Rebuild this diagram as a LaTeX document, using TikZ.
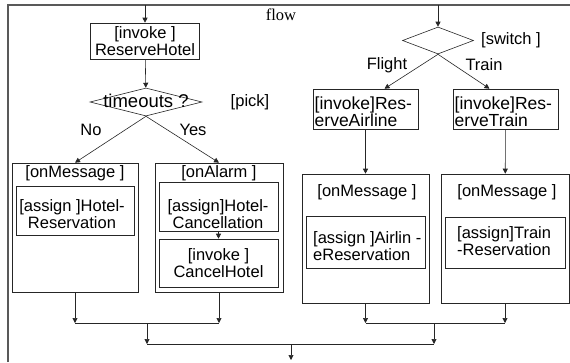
\documentclass[tikz,border=0pt]{standalone}
\usepackage{fontspec}
\setmainfont{Liberation Sans}
\newfontfamily\seriffont{Liberation Serif}
\usetikzlibrary{shapes.geometric,arrows.meta}

\begin{document}
\begin{tikzpicture}[x=1pt,y=-1pt,
  box/.style={draw=black!85,line width=0.6pt,inner sep=0pt,align=center,
              font=\fontsize{16.5}{13}\selectfont},
  lbl/.style={inner sep=0pt,align=center,font=\fontsize{16.5}{13}\selectfont},
  lbll/.style={inner sep=0pt,align=left,anchor=west,font=\fontsize{16.5}{13}\selectfont},
  dec/.style={draw=black!85,line width=0.6pt,shape=diamond,inner sep=0pt},
  arr/.style={draw=black!85,line width=0.6pt,-{Triangle[length=5pt,width=5pt]}},
  ln/.style={draw=black!85,line width=0.6pt}]
\useasboundingbox (0,0) rectangle (570,362);

% frame of the flow activity
\draw[draw=black!65,line width=1.3pt] (8,362) -- (8,5) -- (570,5);
\node[inner sep=0pt,font=\seriffont\fontsize{16.5}{16.5}\selectfont] (flow) at (281,15) {flow};

% ---------- left branch: pick ----------
\coordinate (inL) at (145,5);
\node[box,minimum width=109pt,minimum height=36pt] (hotel) at (145,41) {[invoke ]\\ReserveHotel};
\node[dec,minimum width=112pt,minimum height=28pt] (pick) at (146,102) {};
\node[lbl,font=\fontsize{18.5}{13}\selectfont] (pickT) at (146,101) {timeouts ?};
\node[lbl] (pickL) at (250,102) {[pick]};
\node[lbl] (no) at (91,130) {No};
\node[lbl] (yes) at (193,130) {Yes};

\node[box,minimum width=126pt,minimum height=129pt] (om1) at (75,227.5) {};
\node[lbl] (om1T) at (75,173) {[onMessage ]};
\node[box,minimum width=118pt,minimum height=49pt] (om1a) at (75,210.5) {};
\node[lbl] (om1aT) at (72,214) {[assign ]Hotel-\\Reservation};

\node[box,minimum width=128pt,minimum height=129pt] (oa) at (219,227.5) {};
\node[lbl] (oaT) at (219,173) {[onAlarm ]};
\node[box,minimum width=119pt,minimum height=49pt] (oa1) at (218.5,206.5) {};
\node[lbl] (oa1T) at (218,214) {[assign]Hotel-\\Cancellation};
\node[box,minimum width=119pt,minimum height=48pt] (oa2) at (218.5,263) {[invoke ]\\CancelHotel};

% ---------- right branch: switch ----------
\coordinate (inR) at (438,5);
\node[dec,minimum width=71pt,minimum height=27pt] (sw) at (438,40.5) {};
\node[lbl] (swL) at (511,40) {[switch ]};
\node[lbl] (fl) at (387,65) {Flight};
\node[lbl] (trn) at (484,65) {Train};

\node[box,minimum width=105pt,minimum height=40pt] (ra) at (365.5,109) {};
\node[lbll,font=\fontsize{17.5}{12}\selectfont] (raT) at (314.5,112) {[invoke]Res-\\erveAirline};
\node[box,minimum width=105pt,minimum height=40pt] (tr) at (505.5,109) {};
\node[lbll,font=\fontsize{17.5}{12}\selectfont] (trT) at (454.5,112) {[invoke]Res-\\erveTrain};

\node[box,minimum width=127pt,minimum height=129pt] (om2) at (365.5,238.5) {};
\node[lbl] (om2T) at (367,192) {[onMessage ]};
\node[box,minimum width=119pt,minimum height=52pt] (om2a) at (365.5,242) {};
\node[lbll] (om2aT) at (313,246) {[assign ]Airlin -\\eReservation};

\node[box,minimum width=128pt,minimum height=129pt] (om3) at (505,238.5) {};
\node[lbl] (om3T) at (507,192) {[onMessage ]};
\node[box,minimum width=120pt,minimum height=51pt] (om3a) at (505,242.5) {};
\node[lbll] (om3aT) at (457,241) {[assign]Train\\-Reservation};

% ---------- connectors ----------
\draw[arr] (inL) -- (hotel);
\draw[arr] (hotel) -- (pick);
\draw[arr] (pick.south) -- (om1.north);
\draw[arr] (pick.south) -- (oa.north);
\draw[arr] (oa1) -- (oa2);

\draw[arr] (inR) -- (sw);
\draw[arr] (sw.south) -- ([xshift=19pt]ra.north);
\draw[arr] (sw.south) -- ([xshift=-16pt]tr.north);
\draw[arr] (ra) -- (om2);
\draw[arr] (tr) -- (om3);

% joins
\coordinate (jA) at (147,323);
\coordinate (jB) at (434,323);
\coordinate (jC) at (291,344);
\coordinate (outC) at (291,360);
\draw[arr] (om1.south) -- (om1.south |- jA);
\draw[arr] (oa.south) -- (oa.south |- jA);
\draw[ln] (om1.south |- jA) -- (oa.south |- jA);
\draw[arr] (om2.south) -- (om2.south |- jB);
\draw[arr] (om3.south) -- (om3.south |- jB);
\draw[ln] (om2.south |- jB) -- (om3.south |- jB);
\draw[arr] (jA) -- (jA |- jC);
\draw[arr] (jB) -- (jB |- jC);
\draw[ln] (jA |- jC) -- (jB |- jC);
\draw[arr] (jC) -- (outC);
\end{tikzpicture}
\end{document}
